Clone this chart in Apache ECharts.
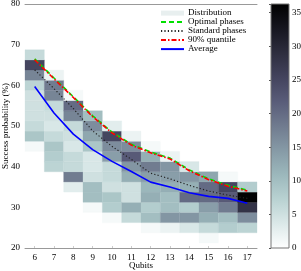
<!DOCTYPE html>
<html><head><meta charset="utf-8">
<script src="https://cdn.jsdelivr.net/npm/echarts@6/dist/echarts.min.js"></script>
<style>html,body{margin:0;padding:0;background:#fff}#c{width:301px;height:271px}</style>
</head><body><div id="c"></div>
<script>
// ---- data ----
const qubits = ['6','7','8','9','10','11','12','13','14','15','16','17'];
const binWidth = 2.5;
// centre of the lowest histogram bin in each column (%)
const distLowest = [45, 40, 35, 30, 27.5, 27.5, 25, 25, 25, 22.5, 25, 25];
// counts per bin, from the lowest bin upwards
const dist6  = [1, 9, 6, 5, 5, 5, 7, 17, 25, 6];
const dist7  = [7, 8, 9, 6, 4, 5, 6, 17, 18, 2];
const dist8  = [3, 18, 6, 6, 4, 5, 6, 17, 20, 1];
const dist9  = [1, 10, 10, 5, 4, 4, 9, 13, 16, 10];
const dist10 = [1, 8, 9, 5, 6, 6, 14, 16, 25, 3];
const dist11 = [6, 12, 5, 5, 12, 15, 22, 16, 2];
const dist12 = [1, 10, 8, 12, 11, 14, 18, 12, 1];
const dist13 = [2, 15, 10, 10, 12, 14, 15, 2];
const dist14 = [4, 15, 8, 20, 12, 15, 4];
const dist15 = [1, 6, 12, 14, 20, 20, 13];
const dist16 = [8, 10, 18, 22, 25, 1];
const dist17 = [7, 16, 28, 36, 8];
const distColumns = [dist6, dist7, dist8, dist9, dist10, dist11, dist12, dist13, dist14, dist15, dist16, dist17];

const optimalPhases  = [66.5, 61.8, 57.2, 52.5, 48.5, 45.5, 43.6, 42.1, 39.2, 37.0, 35.4, 34.2];
const quantile90     = [66.3, 61.6, 57.0, 52.3, 48.3, 45.3, 43.4, 41.9, 39.0, 36.8, 35.2, 34.0];
const standardPhases = [63.8, 59.2, 54.3, 48.8, 45.0, 41.8, 38.4, 37.0, 35.4, 34.0, 33.0, 32.2];
const average        = [59.7, 53.2, 48.0, 44.2, 41.3, 38.8, 36.2, 35.0, 33.6, 32.7, 32.2, 31.0];

const yMin = 20, yMax = 80, yInterval = 10;
const colorMin = 0, colorMax = 36.3, colorInterval = 5;

// bone_r colormap, from low (white) to high (black)
const boneR = ['#ffffff','#dce9e9','#b9d2d2','#9cb8bc','#869aa6','#707b8f','#595c79','#43435d','#2d2d3e','#16161f','#000000'];

// ---- build ----
const cells = [];
distColumns.forEach((col, i) => {
  col.forEach((v, j) => { cells.push([i, distLowest[i] + j * binWidth, v]); });
});

const FONT = 'Liberation Serif';
const txt = {fontFamily: FONT, fontSize: 9, color: '#000'};

function renderCell(params, api) {
  const xi = api.value(0), yc = api.value(1);
  const tl = api.coord([xi, yc + binWidth / 2]);
  const sz = api.size([1, binWidth]);
  const c = api.visual('color');
  return {type: 'rect',
    shape: {x: tl[0] - sz[0] / 2, y: tl[1], width: sz[0], height: sz[1]},
    style: {fill: c, stroke: c, lineWidth: 0.3}};
}

const gradStops = boneR.map((c, k) => ({offset: 1 - k / (boneR.length - 1), color: c})).reverse();

function renderBar(params, api) {
  const p0 = api.coord([0, colorMax]);
  const p1 = api.coord([1, colorMin]);
  return {type: 'rect',
    shape: {x: p0[0], y: p0[1], width: p1[0] - p0[0], height: p1[1] - p0[1]},
    style: {fill: new echarts.graphic.LinearGradient(0, 0, 0, 1, gradStops), stroke: '#777', lineWidth: 1}};
}

const chart = echarts.init(document.getElementById('c'), null, {renderer: 'canvas'});
chart.setOption({
  animation: false,
  backgroundColor: '#fff',
  grid: [
    {left: 25, right: 44, top: 4, bottom: 23, containLabel: false, outerBoundsMode: 'none'},
    {left: 271, width: 18, top: 4, bottom: 23, containLabel: false, outerBoundsMode: 'none'}
  ],
  xAxis: [
    {gridIndex: 0, type: 'category', data: qubits, boundaryGap: true,
      axisLine: {lineStyle: {color: '#999', width: 1}},
      axisTick: {show: true, inside: true, length: 2, alignWithLabel: true, lineStyle: {color: '#ccc'}},
      axisLabel: Object.assign({margin: 5}, txt),
      name: 'Qubits', nameLocation: 'middle', nameGap: 13, nameMoveOverlap: false, nameTextStyle: txt},
    {gridIndex: 0, type: 'category', data: qubits, position: 'top',
      axisLine: {lineStyle: {color: '#999', width: 1}}, axisTick: {show: false}, axisLabel: {show: false}},
    {gridIndex: 1, type: 'value', min: 0, max: 1, show: false}
  ],
  yAxis: [
    {gridIndex: 0, type: 'value', min: yMin, max: yMax, interval: yInterval,
      axisLine: {show: false}, axisTick: {show: false}, splitLine: {show: false},
      axisLabel: Object.assign({margin: 5}, txt),
      name: 'Success probability (%)', nameLocation: 'middle', nameGap: 15, nameMoveOverlap: false, nameTextStyle: txt},
    {gridIndex: 1, type: 'value', min: colorMin, max: colorMax, interval: colorInterval, position: 'right',
      axisLine: {show: false}, splitLine: {show: false},
      axisTick: {show: true, inside: true, length: 2, lineStyle: {color: '#555'}},
      axisLabel: Object.assign({margin: 3, formatter: v => (v % colorInterval === 0 ? String(v) : '')}, txt)}
  ],
  visualMap: {type: 'continuous', show: false, seriesIndex: 0, dimension: 2,
    min: colorMin, max: colorMax, inRange: {color: boneR}},
  legend: {
    left: 160, top: 8.6, orient: 'vertical', padding: 0, itemGap: 0,
    itemWidth: 23, itemHeight: 5,
    itemStyle: {opacity: 0},
    textStyle: {fontFamily: FONT, fontSize: 9, color: '#000', lineHeight: 8.7, padding: [0, 0, 0, -1]},
    data: [
      {name: 'Distribution', icon: 'rect', itemStyle: {color: '#e8efef', opacity: 1}},
      'Optimal phases', 'Standard phases', '90% quantile', 'Average'
    ]
  },
  series: [
    {name: 'Distribution', type: 'custom', xAxisIndex: 0, yAxisIndex: 0,
      renderItem: renderCell, encode: {x: 0, y: 1}, data: cells, z: 1},
    {name: 'Optimal phases', type: 'line', xAxisIndex: 0, yAxisIndex: 0, data: optimalPhases,
      symbol: 'none', color: '#00e000', lineStyle: {color: '#00e000', width: 1.6, type: [5, 3]}, z: 3},
    {name: 'Standard phases', type: 'line', xAxisIndex: 0, yAxisIndex: 0, data: standardPhases,
      symbol: 'none', color: '#222', lineStyle: {color: '#222', width: 1.2, type: [1.2, 2.2]}, z: 3},
    {name: '90% quantile', type: 'line', xAxisIndex: 0, yAxisIndex: 0, data: quantile90,
      symbol: 'none', color: '#ff0000', lineStyle: {color: '#ff0000', width: 1.6, type: [5, 2, 1.5, 2]}, z: 4},
    {name: 'Average', type: 'line', xAxisIndex: 0, yAxisIndex: 0, data: average,
      symbol: 'none', color: '#0000ff', lineStyle: {color: '#0000ff', width: 1.6}, z: 5},
    {name: 'colorbar', type: 'custom', xAxisIndex: 2, yAxisIndex: 1,
      renderItem: renderBar, data: [[0]], silent: true}
  ]
});
</script></body></html>
